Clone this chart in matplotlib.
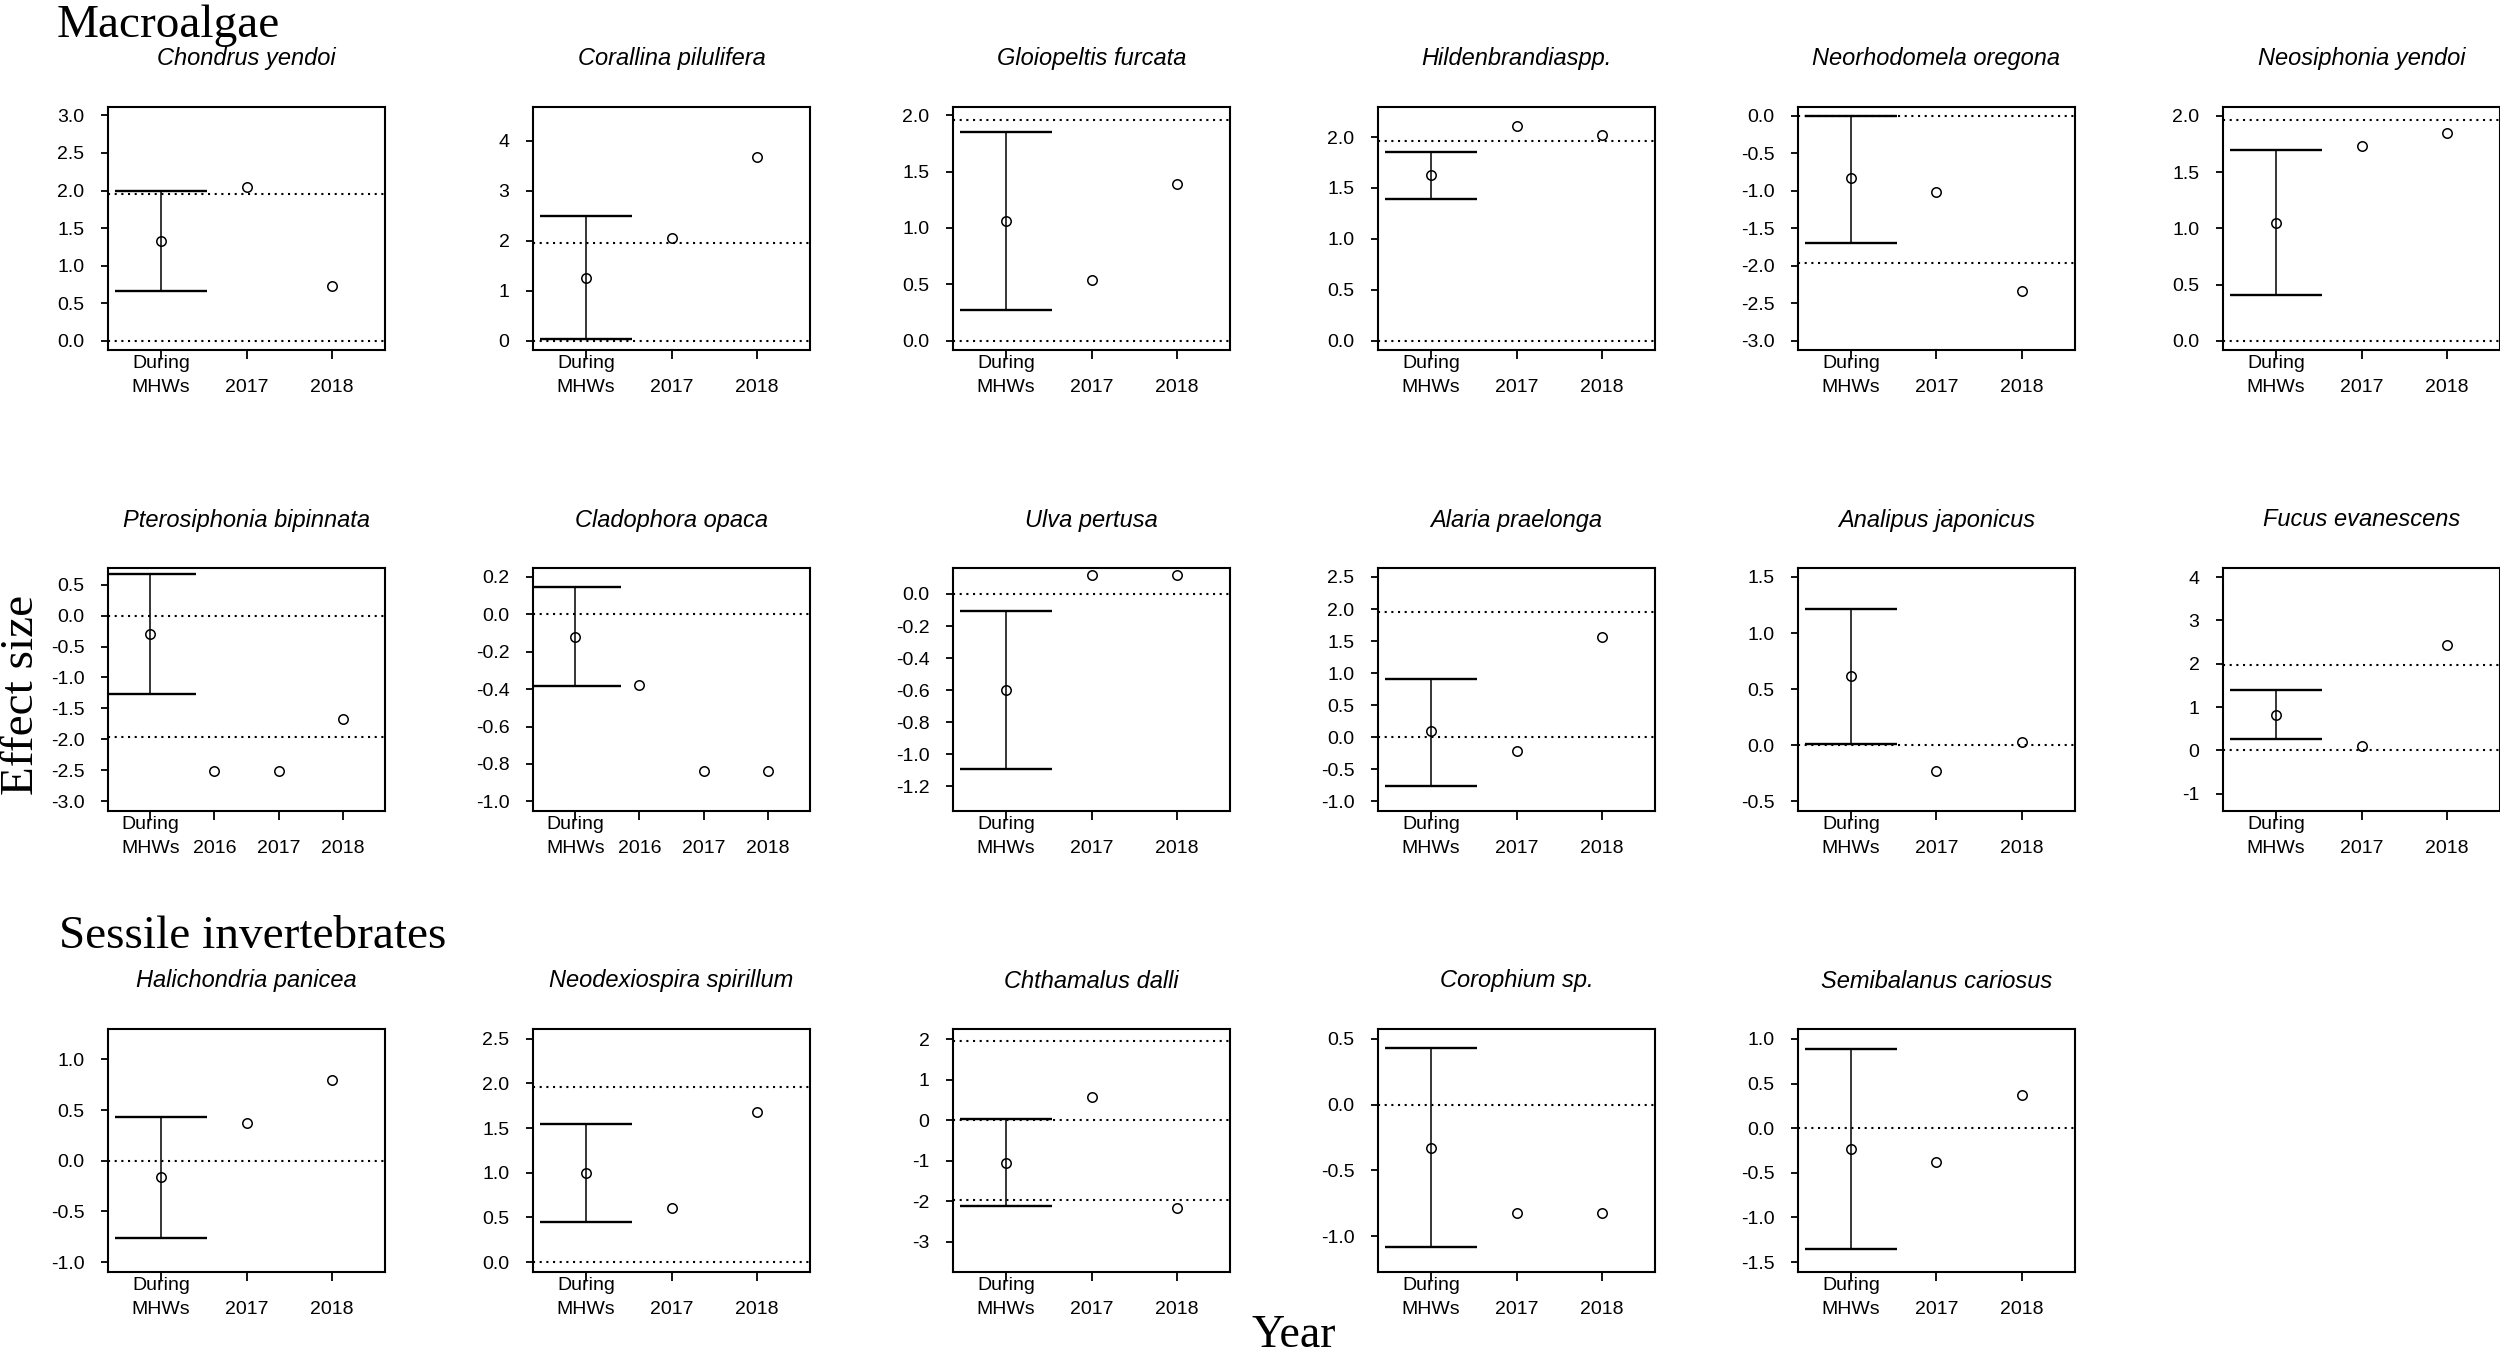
import numpy as np
import matplotlib
matplotlib.use("Agg")
import matplotlib.pyplot as plt

# species per panel (row by row)
species = ["Chondrus yendoi", "Corallina pilulifera", "Gloiopeltis furcata",
           "Hildenbrandiaspp.", "Neorhodomela oregona", "Neosiphonia yendoi",
           "Pterosiphonia bipinnata", "Cladophora opaca", "Ulva pertusa",
           "Alaria praelonga", "Analipus japonicus", "Fucus evanescens",
           "Halichondria panicea", "Neodexiospira spirillum", "Chthamalus dalli",
           "Corophium sp.", "Semibalanus cariosus"]

# effect size during MHWs with CI
during_mean = [1.33, 1.25, 1.06, 1.63, -0.83, 1.05,
               -0.30, -0.12, -0.60, 0.09, 0.62, 0.82,
               -0.16, 1.00, -1.07, -0.33, -0.23]
during_lo = [0.66, 0.03, 0.27, 1.39, -1.69, 0.41,
             -1.27, -0.385, -1.09, -0.76, 0.012, 0.26,
             -0.76, 0.45, -2.13, -1.08, -1.35]
during_hi = [1.99, 2.49, 1.85, 1.85, 0.0, 1.70,
             0.67, 0.148, -0.106, 0.91, 1.21, 1.40,
             0.43, 1.55, 0.016, 0.43, 0.89]

# years after the MHWs and their effect sizes
years = [["2017", "2018"]] * 6 + [["2016", "2017", "2018"]] * 2 + [["2017", "2018"]] * 9
year_vals = [[2.04, 0.73], [2.05, 3.67], [0.54, 1.39],
             [2.11, 2.02], [-1.01, -2.34], [1.73, 1.85],
             [-2.52, -2.52, -1.67], [-0.376, -0.84, -0.84], [0.116, 0.116],
             [-0.21, 1.56], [-0.235, 0.024], [0.09, 2.44],
             [0.37, 0.80], [0.605, 1.68], [0.57, -2.17],
             [-0.826, -0.826], [-0.38, 0.37]]

ytick_labels = [
    ["0.0", "0.5", "1.0", "1.5", "2.0", "2.5", "3.0"],
    ["0", "1", "2", "3", "4"],
    ["0.0", "0.5", "1.0", "1.5", "2.0"],
    ["0.0", "0.5", "1.0", "1.5", "2.0"],
    ["-3.0", "-2.5", "-2.0", "-1.5", "-1.0", "-0.5", "0.0"],
    ["0.0", "0.5", "1.0", "1.5", "2.0"],
    ["-3.0", "-2.5", "-2.0", "-1.5", "-1.0", "-0.5", "0.0", "0.5"],
    ["-1.0", "-0.8", "-0.6", "-0.4", "-0.2", "0.0", "0.2"],
    ["-1.2", "-1.0", "-0.8", "-0.6", "-0.4", "-0.2", "0.0"],
    ["-1.0", "-0.5", "0.0", "0.5", "1.0", "1.5", "2.0", "2.5"],
    ["-0.5", "0.0", "0.5", "1.0", "1.5"],
    ["-1", "0", "1", "2", "3", "4"],
    ["-1.0", "-0.5", "0.0", "0.5", "1.0"],
    ["0.0", "0.5", "1.0", "1.5", "2.0", "2.5"],
    ["-3", "-2", "-1", "0", "1", "2"],
    ["-1.0", "-0.5", "0.0", "0.5"],
    ["-1.5", "-1.0", "-0.5", "0.0", "0.5", "1.0"],
]

ylims = [(-0.12, 3.11), (-0.19, 4.67), (-0.083, 2.074), (-0.092, 2.295),
         (-3.125, 0.12), (-0.083, 2.08), (-3.16, 0.77), (-1.052, 0.248),
         (-1.354, 0.162), (-1.15, 2.64), (-0.588, 1.58), (-1.4, 4.21),
         (-1.098, 1.30), (-0.111, 2.608), (-3.75, 2.25), (-1.273, 0.576),
         (-1.611, 1.112)]

ref_lines = [-1.96, 0, 1.96]

W, H = 2500, 1353
fig = plt.figure(figsize=(W / 100, H / 100), dpi=100)

col_left = [108, 533, 953, 1378, 1798, 2223]
row_top = [107, 568, 1029]
aw, ah = 277, 243
row_n = [6, 6, 5]

sans = "Liberation Sans"
serif = "Liberation Serif"

k = 0
for r, n in enumerate(row_n):
    for c in range(n):
        ax = fig.add_axes([col_left[c] / W, 1 - (row_top[r] + ah) / H, aw / W, ah / H])
        labels = ["During\nMHWs"] + ["\n" + y for y in years[k]]
        x = np.arange(1, len(labels) + 1)
        for h in ref_lines:
            ax.axhline(h, color="black", lw=1.5, ls=(0, (1, 2.2)), zorder=1)
        m = during_mean[k]
        ax.errorbar([1], [m], yerr=[[m - during_lo[k]], [during_hi[k] - m]],
                    fmt="none", ecolor="black", elinewidth=1.1, capsize=33,
                    capthick=1.7, zorder=2)
        ax.plot(x, [m] + year_vals[k], "o", mfc="none", mec="black",
                ms=6.8, mew=1.1, zorder=3)
        nx = len(labels)
        pad = 0.04 * nx
        ax.set_xlim(0.5 - pad, nx + 0.5 + pad)
        ax.set_ylim(*ylims[k])
        yt = [float(t) for t in ytick_labels[k]]
        ax.set_yticks(yt)
        ax.set_yticklabels(ytick_labels[k], family=sans, fontsize=14)
        ax.set_xticks(x)
        ax.set_xticklabels(labels, family=sans, fontsize=14, linespacing=1.55)
        ax.tick_params(axis="y", direction="out", length=5, width=1.3, pad=12)
        ax.tick_params(axis="x", direction="out", length=6.5, width=1.3, pad=-3)
        for s in ax.spines.values():
            s.set_linewidth(1.5)
        ax.text(0.5, 1 + 48 / ah, species[k], transform=ax.transAxes,
                ha="center", va="center", family=sans, style="italic", fontsize=17)
        k += 1

fig.text(57 / W, 1 - 37 / H, "Macroalgae", family=serif, fontsize=34,
         ha="left", va="baseline")
fig.text(59 / W, 1 - 948 / H, "Sessile invertebrates", family=serif, fontsize=34,
         ha="left", va="baseline")
fig.text(22 / W, 1 - 695 / H, "Effect size", family=serif, fontsize=34,
         rotation=90, ha="center", va="center")
fig.text(1294 / W, 1 - 1347 / H, "Year", family=serif, fontsize=33,
         ha="center", va="baseline")

fig.savefig("out.png", dpi=100, facecolor="white")
